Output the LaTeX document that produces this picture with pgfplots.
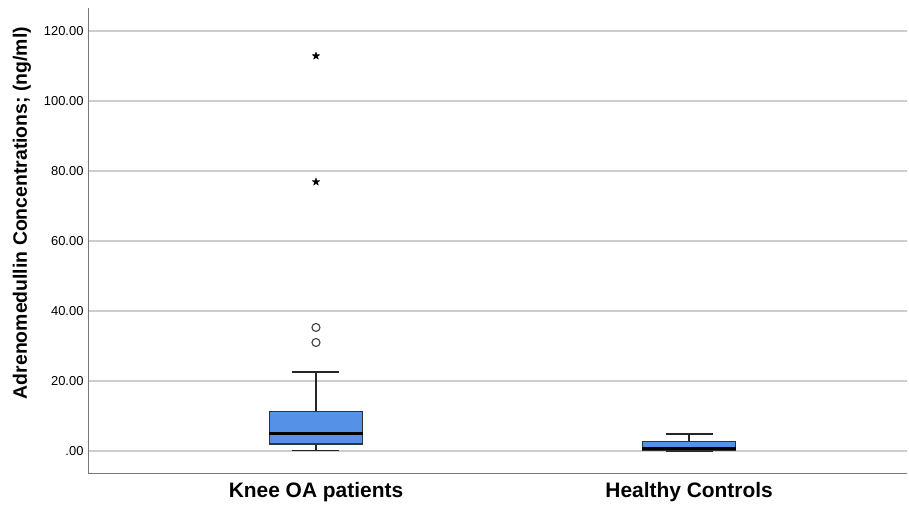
\documentclass[border=0pt]{standalone}
\usepackage{pgfplots}
\pgfplotsset{compat=1.18}
\usepgfplotslibrary{statistics}
\usepackage{fontspec}
\setmainfont{Liberation Sans}
\definecolor{boxblue}{RGB}{85,145,230}
\definecolor{gridgray}{RGB}{205,205,205}
\definecolor{axisgray}{RGB}{120,120,120}
% filled five-pointed star for extreme values
\pgfdeclareplotmark{fstar}{%
  \pgfpathmoveto{\pgfpointpolar{90}{\pgfplotmarksize}}%
  \pgfpathlineto{\pgfpointpolar{126}{0.42\pgfplotmarksize}}%
  \pgfpathlineto{\pgfpointpolar{162}{\pgfplotmarksize}}%
  \pgfpathlineto{\pgfpointpolar{198}{0.42\pgfplotmarksize}}%
  \pgfpathlineto{\pgfpointpolar{234}{\pgfplotmarksize}}%
  \pgfpathlineto{\pgfpointpolar{270}{0.42\pgfplotmarksize}}%
  \pgfpathlineto{\pgfpointpolar{306}{\pgfplotmarksize}}%
  \pgfpathlineto{\pgfpointpolar{342}{0.42\pgfplotmarksize}}%
  \pgfpathlineto{\pgfpointpolar{18}{\pgfplotmarksize}}%
  \pgfpathlineto{\pgfpointpolar{54}{0.42\pgfplotmarksize}}%
  \pgfpathclose
  \pgfusepathqfillstroke}
\pgfplotsset{
  spssbox/.style={
    fill=boxblue, draw=black!80, line width=1.3pt,
    boxplot/every whisker/.style={draw=black!85, line width=1.6pt},
    boxplot/every median/.style={draw=black, line width=3pt},
  },
}
\begin{document}
\begin{tikzpicture}
\begin{axis}[
  name=ax,
  scale only axis,
  width=819bp, height=465bp,
  xmin=0.389, xmax=2.584,
  ymin=-6.3, ymax=126.6,
  axis x line=bottom, axis y line=left,
  axis line style={axisgray, line width=0.9pt, -},
  xtick={1,2},
  xticklabels={Knee OA patients, Healthy Controls},
  xticklabel style={font=\fontsize{21}{24}\selectfont\bfseries, yshift=-6bp},
  ytick={0,20,40,60,80,100,120},
  yticklabels={.00,20.00,40.00,60.00,80.00,100.00,120.00},
  yticklabel style={font=\fontsize{13}{15}\selectfont, xshift=-1bp},
  major tick length=0pt,
  ymajorgrids,
  grid style={gridgray, line width=1.2pt},
  ylabel={Adrenomedullin Concentrations; (ng/ml)},
  every axis y label/.append style={at={(ticklabel cs:0.559)}, anchor=near ticklabel},
  ylabel style={font=\fontsize{19.5}{22}\selectfont\bfseries, yshift=6bp},
  boxplot/draw direction=y,
  clip=false,
]
% Knee OA patients, with two outliers
\addplot[
  boxplot prepared={
    draw position=1,
    lower whisker=0.1, lower quartile=2.0, median=4.9,
    upper quartile=11.2, upper whisker=22.5,
    box extend=0.25, whisker extend=0.126,
  },
  spssbox,
  mark=o, mark size=4bp, mark options={draw=black!75, fill=white, line width=1.1pt},
] table[row sep=\\, y index=0] {y\\ 35.3\\ 31.0\\};
% extreme values
\addplot[only marks, mark=fstar, mark size=4bp, black, line width=0.3pt]
  coordinates {(1,112.9) (1,76.9)};
% Healthy Controls
\addplot[
  boxplot prepared={
    draw position=2,
    lower whisker=0.0, lower quartile=0.1, median=0.6,
    upper quartile=2.8, upper whisker=4.8,
    box extend=0.25, whisker extend=0.126,
  },
  spssbox,
] coordinates {};
\end{axis}
\pgfresetboundingbox
\path[use as bounding box] ([shift={(-88bp,-34bp)}]ax.south west) rectangle ([shift={(2bp,8bp)}]ax.north east);
\end{tikzpicture}
\end{document}
